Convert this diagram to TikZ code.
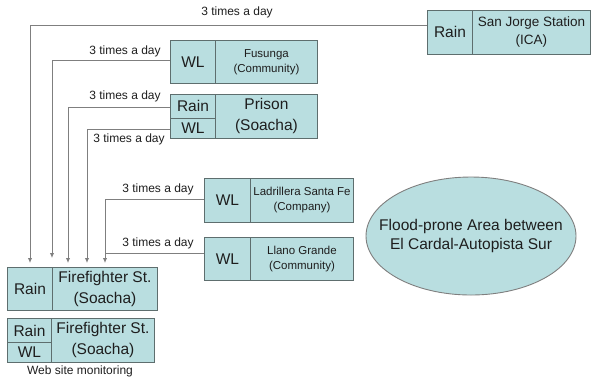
\documentclass[tikz,border=0pt]{standalone}
\usepackage{fontspec}
\setmainfont{Liberation Sans}
\usetikzlibrary{shapes.geometric,arrows.meta,calc}
\definecolor{boxfill}{HTML}{B9DEE0}
\definecolor{boxline}{HTML}{5E6E6E}
\definecolor{conncol}{HTML}{7F7F7F}
\definecolor{txt}{HTML}{1E1E1E}
\begin{document}
\begin{tikzpicture}[x=1pt,y=-1pt,
 cell/.style={draw=boxline, fill=boxfill, line width=0.9pt, inner sep=0pt, anchor=north west, align=center, text=txt},
 big/.style={font=\fontsize{15.5}{21}\selectfont},
 small/.style={font=\fontsize{11.5}{15}\selectfont},
 mid/.style={font=\fontsize{13.5}{18}\selectfont},
 conn/.style={draw=conncol, line width=1pt},
 arr/.style={conn, -{Latex[length=5pt,width=4.5pt]}, shorten >=4pt},
 lbl/.style={font=\fontsize{12}{14}\selectfont, text=txt, inner sep=0pt}]
\useasboundingbox (0,0) rectangle (593,376);

% San Jorge
\node[cell,big,minimum width=45,minimum height=44] (sjR) at (427,10) {Rain};
\node[cell,mid,minimum width=118,minimum height=44] (sjN) at (472,10) {San Jorge Station\\(ICA)};
% Fusunga
\node[cell,big,minimum width=45,minimum height=43] (fuW) at (170,40) {WL};
\node[cell,small,minimum width=102,minimum height=43] (fuN) at (215,40) {Fusunga\\(Community)};
% Prison
\node[cell,big,minimum width=45,minimum height=24] (prR) at (170,94) {Rain};
\node[cell,big,minimum width=45,minimum height=20] (prW) at (170,118) {WL};
\node[cell,big,minimum width=102,minimum height=44] (prN) at (215,94) {Prison\\(Soacha)};
% Ladrillera
\node[cell,big,minimum width=46,minimum height=44] (laW) at (204,178) {WL};
\node[cell,small,minimum width=103,minimum height=44] (laN) at (250,178) {Ladrillera Santa Fe\\(Company)};
% Llano Grande
\node[cell,big,minimum width=46,minimum height=43] (llW) at (204,237) {WL};
\node[cell,small,minimum width=103,minimum height=43] (llN) at (250,237) {Llano Grande\\(Community)};
% Firefighter 1
\node[cell,big,minimum width=45,minimum height=43] (f1R) at (7,267) {Rain};
\node[cell,big,minimum width=105,minimum height=43] (f1N) at (52,267) {Firefighter St.\\(Soacha)};
% Firefighter 2
\node[cell,big,minimum width=44,minimum height=24] (f2R) at (7,318) {Rain};
\node[cell,big,minimum width=44,minimum height=20] (f2W) at (7,342) {WL};
\node[cell,big,minimum width=103,minimum height=44] (f2N) at (51,318) {Firefighter St.\\(Soacha)};
\node[lbl] (web) at (80,371) {Web site monitoring};
% Ellipse
\node[ellipse, draw=conncol, fill=boxfill, line width=0.9pt, minimum width=210, minimum height=118, inner sep=0pt] (area) at (471,236) {};
\node[align=center, text=txt, inner sep=0pt, font=\fontsize{15.5}{19}\selectfont] (areatxt) at (area.center) {Flood-prone Area between\\El Cardal-Autopista Sur};

% Connectors
\coordinate (k1) at (30,25);
\coordinate (k2) at (52,60);
\coordinate (k3) at (68,107);
\coordinate (k4) at (87,129);
\coordinate (k5) at (105,199);
\coordinate (k6) at (105,253);
\draw[arr] (sjR.west |- k1) -- (k1) -- (k1 |- f1R.north);
\draw[arr, shorten >=9pt] (fuW.west |- k2) -- (k2) -- (k2 |- f1R.north);
\draw[arr] (prR.west |- k3) -- (k3) -- (k3 |- f1N.north);
\draw[arr] (prW.west |- k4) -- (k4) -- (k4 |- f1N.north);
\draw[arr] (laW.west |- k5) -- (k5) -- (k5 |- f1N.north);
\draw[conn] (llW.west |- k6) -- (k6);

% Labels
\node[lbl] (t1) at (237,12) {3 times a day};
\node[lbl] (t2) at (125,51) {3 times a day};
\node[lbl] (t3) at (125,96) {3 times a day};
\node[lbl] (t4) at (129,139) {3 times a day};
\node[lbl] (t5) at (158,189) {3 times a day};
\node[lbl] (t6) at (158,243) {3 times a day};
\end{tikzpicture}
\end{document}
